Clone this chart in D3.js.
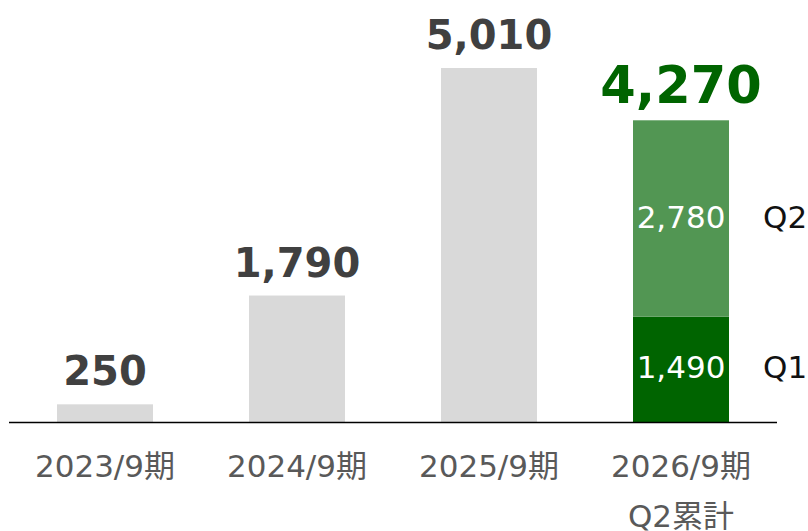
<!DOCTYPE html>
<html>
<head>
<meta charset="utf-8">
<script src="https://cdn.jsdelivr.net/npm/d3@7"></script>
<style>
  body { margin: 0; background: #fff; }
  text { font-family: "DejaVu Sans", "Noto Sans CJK JP", sans-serif; }
</style>
</head>
<body>
<svg class="chart"></svg>
<script>
// data
var periods = ["2023/9期", "2024/9期", "2025/9期", "2026/9期"];
var periodSub = ["", "", "", "Q2累計"];
var totals = [250, 1790, 5010, 4270];
var q1 = [null, null, null, 1490];
var q2 = [null, null, null, 2780];
var quarterNames = ["Q1", "Q2"];

var width = 808,
    height = 531;

var svg = d3.select(".chart")
    .attr("width", width)
    .attr("height", height);

// x scale: band per period
var x = d3.scaleBand()
    .domain(periods)
    .range([9, 777])
    .paddingInner(0.5)
    .paddingOuter(0.25);

// y scale: baseline at 422
var y = d3.scaleLinear()
    .domain([0, 5010])
    .range([422, 68]);

var rows = periods.map(function(p, i) {
    return { period: p, sub: periodSub[i], total: totals[i], q1: q1[i], q2: q2[i] };
});

// plain grey bars for full years
svg.selectAll("rect.year")
    .data(rows.filter(function(d) { return d.q1 === null; }))
    .enter()
    .append("rect")
    .attr("class", "year")
    .attr("x", function(d) { return x(d.period); })
    .attr("width", x.bandwidth())
    .attr("y", function(d) { return y(d.total); })
    .attr("height", function(d) { return y(0) - y(d.total); })
    .attr("fill", "#d9d9d9");

// stacked bar for the current year
var last = rows[rows.length - 1];
var segs = [
    { name: quarterNames[0], lo: 0, hi: last.q1, value: last.q1, color: "#006400" },
    { name: quarterNames[1], lo: last.q1, hi: last.q1 + last.q2, value: last.q2, color: "#529653" }
];

svg.selectAll("rect.seg")
    .data(segs)
    .enter()
    .append("rect")
    .attr("class", "seg")
    .attr("x", x(last.period))
    .attr("width", x.bandwidth())
    .attr("y", function(d) { return y(d.hi); })
    .attr("height", function(d) { return y(d.lo) - y(d.hi); })
    .attr("fill", function(d) { return d.color; });

svg.selectAll("text.seg")
    .data(segs)
    .enter()
    .append("text")
    .attr("class", "seg")
    .attr("x", x(last.period) + x.bandwidth() / 2)
    .attr("y", function(d) { return (y(d.lo) + y(d.hi)) / 2 - 2; })
    .attr("text-anchor", "middle")
    .attr("dominant-baseline", "central")
    .attr("font-size", 31)
    .attr("fill", "#fff")
    .text(function(d) { return d3.format(",")(d.value); });

svg.selectAll("text.qname")
    .data(segs)
    .enter()
    .append("text")
    .attr("class", "qname")
    .attr("x", 763)
    .attr("y", function(d) { return (y(d.lo) + y(d.hi)) / 2 - 2; })
    .attr("dominant-baseline", "central")
    .attr("font-size", 31)
    .attr("fill", "#111")
    .text(function(d) { return d.name; });

// total labels above bars
svg.selectAll("text.total")
    .data(rows)
    .enter()
    .append("text")
    .attr("class", "total")
    .attr("x", function(d) { return x(d.period) + x.bandwidth() / 2; })
    .attr("y", function(d) { return y(d.total) - (d.q1 === null ? 19 : 17); })
    .attr("text-anchor", "middle")
    .attr("font-weight", "bold")
    .attr("font-size", function(d) { return d.q1 === null ? 40 : 51; })
    .attr("fill", function(d) { return d.q1 === null ? "#404040" : "#006400"; })
    .text(function(d) { return d3.format(",")(d.total); });

// baseline
svg.append("line")
    .attr("x1", 9)
    .attr("x2", 777)
    .attr("y1", y(0) + 0.5)
    .attr("y2", y(0) + 0.5)
    .attr("stroke", "#000")
    .attr("stroke-width", 1.5);

// category labels
var cat = svg.selectAll("text.cat")
    .data(rows)
    .enter()
    .append("text")
    .attr("class", "cat")
    .attr("x", function(d) { return x(d.period) + x.bandwidth() / 2; })
    .attr("y", 477)
    .attr("text-anchor", "middle")
    .attr("font-size", 31)
    .attr("fill", "#595959");

cat.append("tspan")
    .text(function(d) { return d.period; });

cat.append("tspan")
    .attr("x", function(d) { return x(d.period) + x.bandwidth() / 2; })
    .attr("dy", 50)
    .text(function(d) { return d.sub; });
</script>
</body>
</html>
